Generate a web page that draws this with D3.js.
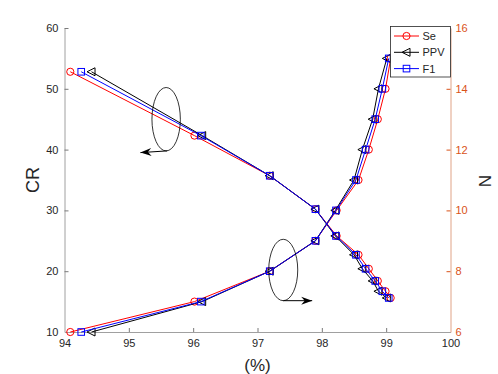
<!DOCTYPE html>
<html>
<head>
<meta charset="utf-8">
<script src="https://cdn.jsdelivr.net/npm/d3@7"></script>
<style>
  body { margin: 0; background: #fff; }
  svg { display: block; font-family: "Liberation Sans", Arial, sans-serif; }
</style>
</head>
<body>
<script>
// chart data (x in %, one point per configuration)
var seVals  = [94.09, 96.02, 97.19, 97.90, 98.23, 98.57, 98.73, 98.87, 98.99, 99.07];
var ppvVals = [94.42, 96.14, 97.19, 97.90, 98.21, 98.50, 98.63, 98.79, 98.88, 99.01];
var f1Vals  = [94.26, 96.12, 97.19, 97.90, 98.22, 98.53, 98.68, 98.83, 98.94, 99.04];
var crVals  = [52.8, 42.3, 35.7, 30.2, 25.8, 22.7, 20.4, 18.4, 16.7, 15.6];
var nVals   = [6, 7, 8, 9, 10, 11, 12, 13, 14, 15];

var xTicks = [94, 95, 96, 97, 98, 99, 100];
var crTicks = [10, 20, 30, 40, 50, 60];
var nTicks = [6, 8, 10, 12, 14, 16];
var seriesNames = ["Se", "PPV", "F1"];

var w = 498, h = 374;
var orange = "#D95319";
var txt = "#262626";

var svg = d3.select("body").append("svg")
  .attr("width", w)
  .attr("height", h);

var x = d3.scaleLinear().domain([94, 100]).range([64.5, 450.5]);
var yL = d3.scaleLinear().domain([10, 60]).range([332, 28]);
var yR = d3.scaleLinear().domain([6, 16]).range([332, 28]);
var fmt = d3.format("d");

// axes
var gx = svg.append("g").attr("transform", "translate(0,332)")
  .call(d3.axisBottom(x).tickValues(xTicks).tickFormat(fmt).tickSizeInner(-4).tickSizeOuter(0).tickPadding(7));
var gl = svg.append("g").attr("transform", "translate(64.5,0)")
  .call(d3.axisLeft(yL).tickValues(crTicks).tickFormat(fmt).tickSizeInner(-4).tickSizeOuter(0).tickPadding(6));
var gr = svg.append("g").attr("transform", "translate(450.5,0)")
  .call(d3.axisRight(yR).tickValues(nTicks).tickFormat(fmt).tickSizeInner(-4).tickSizeOuter(0).tickPadding(5));

[gx, gl].forEach(function(g) {
  g.select(".domain").attr("stroke", "#a0a0a0");
  g.selectAll(".tick line").attr("stroke", "#7a7a7a");
  g.selectAll(".tick text").attr("fill", txt).style("font-size", "11px");
});
gx.selectAll(".tick").filter(function(d) { return d === 94 || d === 100; }).select("line").remove();
gl.selectAll(".tick").filter(function(d) { return d === 10; }).select("line").remove();
gr.select(".domain").attr("stroke", "#e0a386");
gr.selectAll(".tick line").attr("stroke", orange);
gr.selectAll(".tick text").attr("fill", orange).style("font-size", "11px");
gr.selectAll(".tick").filter(function(d) { return d === 6; }).select("line").remove();

// axis titles
svg.append("text").attr("x", 257.5).attr("y", 371).attr("text-anchor", "middle")
  .attr("fill", txt).style("font-size", "17px").text("(%)");
svg.append("text").attr("transform", "translate(39,180) rotate(-90)").attr("text-anchor", "middle")
  .attr("fill", txt).style("font-size", "18px").text("CR");
svg.append("text").attr("transform", "translate(491,181) rotate(-90)").attr("text-anchor", "middle")
  .attr("fill", txt).style("font-size", "17px").text("N");

var series = [
  { name: "Se", xs: seVals, color: "#ff0000", marker: "circle" },
  { name: "PPV", xs: ppvVals, color: "#000000", marker: "tri" },
  { name: "F1", xs: f1Vals, color: "#0000ff", marker: "square" }
];

function drawMarker(g, type, color, cx, cy) {
  if (type === "circle") {
    g.append("circle").attr("cx", cx).attr("cy", cy).attr("r", 3.6)
      .attr("fill", "none").attr("stroke", color).attr("stroke-width", 1);
  } else if (type === "square") {
    g.append("rect").attr("x", cx - 3.3).attr("y", cy - 3.3).attr("width", 6.6).attr("height", 6.6)
      .attr("fill", "none").attr("stroke", color).attr("stroke-width", 1);
  } else {
    g.append("path")
      .attr("d", "M" + (cx - 4.5) + "," + cy + "L" + (cx + 3.5) + "," + (cy - 4) + "L" + (cx + 3.5) + "," + (cy + 4) + "Z")
      .attr("fill", "none").attr("stroke", color).attr("stroke-width", 1);
  }
}

var line = d3.line();
var plot = svg.append("g");

series.forEach(function(s) {
  var cr = s.xs.map(function(v, i) { return [x(v), yL(crVals[i])]; });
  var nn = s.xs.map(function(v, i) { return [x(v), yR(nVals[i])]; });
  [cr, nn].forEach(function(pts) {
    plot.append("path").attr("d", line(pts)).attr("fill", "none")
      .attr("stroke", s.color).attr("stroke-width", 1);
    pts.forEach(function(p) { drawMarker(plot, s.marker, s.color, p[0], p[1]); });
  });
});

// annotations: ellipse + arrow indicating which axis each curve uses
function arrow(x0, y0, x1, y1) {
  svg.append("line").attr("x1", x0).attr("y1", y0).attr("x2", x1).attr("y2", y1)
    .attr("stroke", "#000").attr("stroke-width", 1);
  var a = Math.atan2(y1 - y0, x1 - x0);
  var L = 11, W = 4, N = 3.5;
  var pts = [
    [x1, y1],
    [x1 - L * Math.cos(a) + W * Math.sin(a), y1 - L * Math.sin(a) - W * Math.cos(a)],
    [x1 - (L - N) * Math.cos(a), y1 - (L - N) * Math.sin(a)],
    [x1 - L * Math.cos(a) - W * Math.sin(a), y1 - L * Math.sin(a) + W * Math.cos(a)]
  ];
  svg.append("path").attr("d", "M" + pts.join("L") + "Z").attr("fill", "#000");
}

var e1 = [x(95.58), yL(45.0)];
svg.append("ellipse").attr("cx", e1[0]).attr("cy", e1[1]).attr("rx", 14.2).attr("ry", 31.7)
  .attr("fill", "none").attr("stroke", "#000").attr("stroke-width", 0.8);
arrow(e1[0] + 1, e1[1] + 31.7, x(95.18), yL(45.0) + 33.4);

var e2 = [x(97.40), yL(20.2)];
svg.append("ellipse").attr("cx", e2[0]).attr("cy", e2[1]).attr("rx", 14.5).attr("ry", 30.7)
  .attr("fill", "none").attr("stroke", "#000").attr("stroke-width", 0.8);
arrow(e2[0], e2[1] + 30.7, x(97.85), yL(20.2) + 30.7);

// legend
var lg = svg.append("g");
lg.append("rect").attr("x", 390.5).attr("y", 26.5).attr("width", 60).attr("height", 50.5)
  .attr("fill", "#fff").attr("stroke", "#262626").attr("stroke-width", 0.8);
series.forEach(function(s, i) {
  var yy = 36 + i * 16.3;
  lg.append("line").attr("x1", 394).attr("x2", 419).attr("y1", yy).attr("y2", yy)
    .attr("stroke", s.color).attr("stroke-width", 1);
  drawMarker(lg, s.marker, s.color, 406.5, yy);
  lg.append("text").attr("x", 422.5).attr("y", yy + 4).attr("fill", txt)
    .style("font-size", "11px").text(seriesNames[i]);
});
</script>
</body>
</html>
